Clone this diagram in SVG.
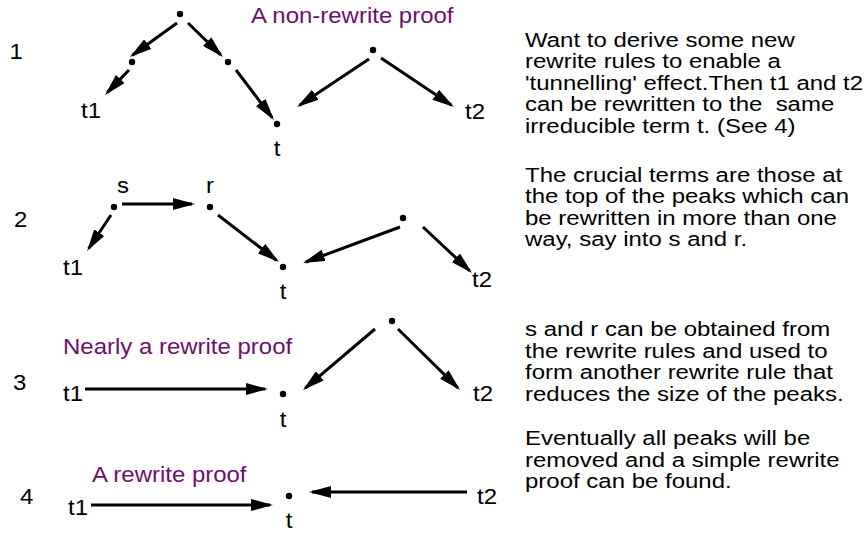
<svg xmlns="http://www.w3.org/2000/svg" width="868" height="547" viewBox="0 0 868 547">
<style>
text{font-family:"Liberation Sans",Arial,Helvetica,sans-serif;font-size:22px;fill:#000}
.note{font-size:19.3px}
.ttl{fill:#6e0f70}
.mid{text-anchor:middle}
.edge{stroke:#000;stroke-width:3;fill:none;marker-end:url(#ah)}
.dot{fill:#000}
</style>
<defs>
<marker id="ah" markerUnits="userSpaceOnUse" markerWidth="22" markerHeight="12" refX="19" refY="6" orient="auto">
<path d="M0,0 L22,6 L0,12 z" fill="#000"/>
</marker>
</defs>
<rect width="868" height="547" fill="#fff"/>

<g id="connectors">
<line class="edge" x1="177" y1="23" x2="132.4" y2="55.2"/>
<line class="edge" x1="129" y1="70" x2="107.1" y2="92.8"/>
<line class="edge" x1="188" y1="23" x2="220.8" y2="54.9"/>
<line class="edge" x1="236" y1="70" x2="272.2" y2="117.6"/>
<line class="edge" x1="369" y1="59" x2="299.5" y2="105.3"/>
<line class="edge" x1="381" y1="58" x2="451.5" y2="105.3"/>
<line class="edge" x1="111" y1="215" x2="88.7" y2="248.5"/>
<line class="edge" x1="122" y1="204" x2="192" y2="204"/>
<line class="edge" x1="218" y1="215" x2="276.6" y2="260.2"/>
<line class="edge" x1="400" y1="227" x2="305.8" y2="262"/>
<line class="edge" x1="423" y1="227" x2="469.8" y2="270.9"/>
<line class="edge" x1="85" y1="389" x2="265" y2="389"/>
<line class="edge" x1="375" y1="329" x2="305.3" y2="388.1"/>
<line class="edge" x1="398" y1="329" x2="457.9" y2="387.9"/>
<line class="edge" x1="91" y1="505" x2="270" y2="505"/>
<line class="edge" x1="467" y1="492" x2="312" y2="492"/>
</g>

<g id="row1">
<text transform="translate(9.5,59) scale(1.09,1)">1</text>
<text class="ttl" transform="translate(251,23) scale(1.09,1)">A non-rewrite proof</text>
<g id="r1-peak"><circle class="dot" cx="180" cy="14" r="3.2"/></g>
<g id="r1-left"><circle class="dot" cx="132" cy="62" r="3.2"/></g>
<g id="r1-right"><circle class="dot" cx="228" cy="62" r="3.2"/></g>
<g id="r1-t1"><text transform="translate(81,118) scale(1.09,1)">t1</text></g>
<g id="r1-t"><circle class="dot" cx="277" cy="124" r="3.2"/><text class="mid" transform="translate(277,156) scale(1.09,1)">t</text></g>
<g id="r1-peak2"><circle class="dot" cx="373" cy="50" r="3.2"/></g>
<g id="r1-t2"><text transform="translate(465,119) scale(1.09,1)">t2</text></g>
</g>

<g id="row2">
<text transform="translate(14,227) scale(1.09,1)">2</text>
<g id="r2-s"><circle class="dot" cx="114" cy="207" r="3.2"/><text transform="translate(117,193) scale(1.09,1)">s</text></g>
<g id="r2-r"><circle class="dot" cx="210" cy="207" r="3.2"/><text transform="translate(206,193) scale(1.09,1)">r</text></g>
<g id="r2-t1"><text transform="translate(63,275) scale(1.09,1)">t1</text></g>
<g id="r2-t"><circle class="dot" cx="283" cy="267" r="3.2"/><text class="mid" transform="translate(283,299) scale(1.09,1)">t</text></g>
<g id="r2-peak"><circle class="dot" cx="403" cy="218" r="3.2"/></g>
<g id="r2-t2"><text transform="translate(472,287) scale(1.09,1)">t2</text></g>
</g>

<g id="row3">
<text transform="translate(13,390) scale(1.09,1)">3</text>
<text class="ttl" transform="translate(63,354) scale(1.09,1)">Nearly a rewrite proof</text>
<g id="r3-t1"><text transform="translate(63,401) scale(1.09,1)">t1</text></g>
<g id="r3-t"><circle class="dot" cx="283" cy="394" r="3.2"/><text class="mid" transform="translate(283,427) scale(1.09,1)">t</text></g>
<g id="r3-peak"><circle class="dot" cx="392" cy="321" r="3.2"/></g>
<g id="r3-t2"><text transform="translate(473,401) scale(1.09,1)">t2</text></g>
</g>

<g id="row4">
<text transform="translate(20,504) scale(1.09,1)">4</text>
<text class="ttl" transform="translate(92,482) scale(1.09,1)">A rewrite proof</text>
<g id="r4-t1"><text transform="translate(68,515) scale(1.09,1)">t1</text></g>
<g id="r4-t"><circle class="dot" cx="289" cy="496" r="3.2"/><text class="mid" transform="translate(289,528) scale(1.09,1)">t</text></g>
<g id="r4-t2"><text transform="translate(477,504) scale(1.09,1)">t2</text></g>
</g>

<g id="notes">
<text class="note" transform="translate(525,46.5) scale(1.243,1)"><tspan x="0" y="0">Want to derive some new</tspan><tspan x="0" dy="21.6">rewrite rules to enable a</tspan><tspan x="0" dy="21.6">'tunnelling' effect.Then t1 and t2</tspan><tspan x="0" dy="21.6">can be rewritten to the&#160; same</tspan><tspan x="0" dy="21.6">irreducible term t. (See 4)</tspan></text>
<text class="note" transform="translate(525,181.5) scale(1.243,1)"><tspan x="0" y="0">The crucial terms are those at</tspan><tspan x="0" dy="21.6">the top of the peaks which can</tspan><tspan x="0" dy="21.6">be rewritten in more than one</tspan><tspan x="0" dy="21.6">way, say into s and r.</tspan></text>
<text class="note" transform="translate(525,336) scale(1.243,1)"><tspan x="0" y="0">s and r can be obtained from</tspan><tspan x="0" dy="21.6">the rewrite rules and used to</tspan><tspan x="0" dy="21.6">form another rewrite rule that</tspan><tspan x="0" dy="21.6">reduces the size of the peaks.</tspan></text>
<text class="note" transform="translate(525,445) scale(1.243,1)"><tspan x="0" y="0">Eventually all peaks will be</tspan><tspan x="0" dy="21.6">removed and a simple rewrite</tspan><tspan x="0" dy="21.6">proof can be found.</tspan></text>
</g>
</svg>
